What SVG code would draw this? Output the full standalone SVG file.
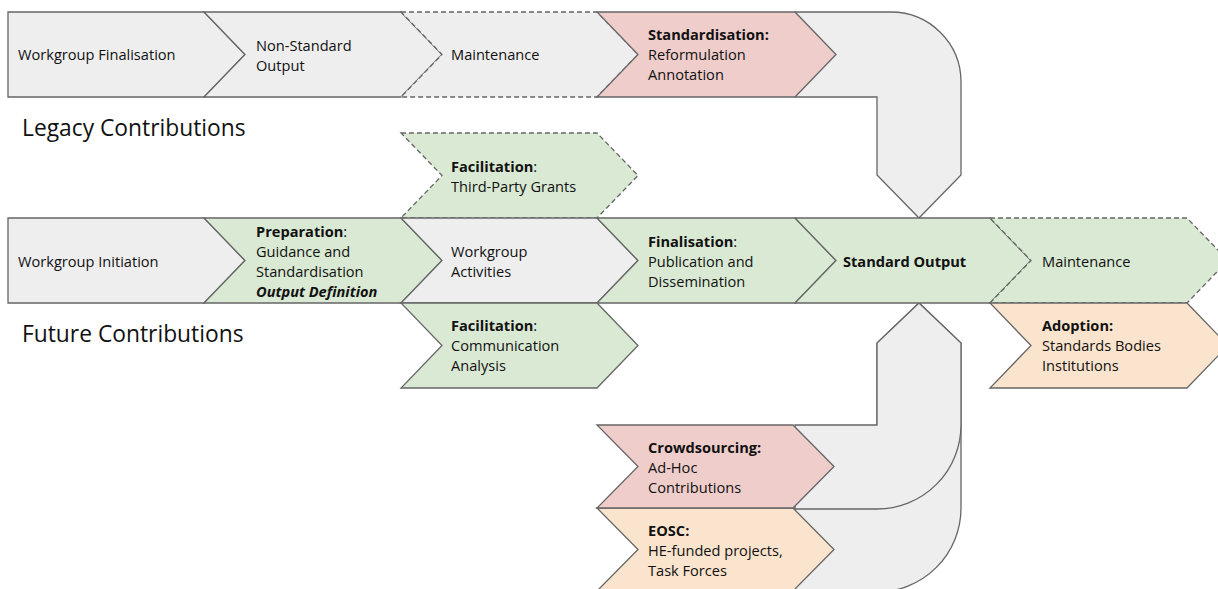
<svg xmlns="http://www.w3.org/2000/svg" width="1218" height="589" viewBox="0 0 1218 589">
  <style>
    .shape { stroke: #666666; stroke-width: 1.3; stroke-linejoin: miter; }
    .dash { stroke-dasharray: 5 3; }
    .grey { fill: #eeeeee; }
    .green { fill: #d9e9d3; }
    .pink { fill: #efcdcb; }
    .orange { fill: #fbe4cd; }
    text { font-family: "Open Sans", "Liberation Sans", sans-serif; font-size: 14.6px; fill: #111111; }
    .b { font-weight: bold; }
    .bi { font-weight: bold; font-style: italic; }
    .title { font-size: 22.8px; }
  </style>

  <!-- connectors: bent flow arrows -->
  <g id="connectors">
    <path class="shape grey" d="M 795,12 H 891 A 70 70 0 0 1 961,82 V 175 L 919,218 L 877,175 V 97 H 795 Z"/>
    <path class="shape grey" d="M 795,508 H 877 V 343 L 919,303 L 961,343 V 508 A 84 84 0 0 1 877,592 H 795 Z"/>
    <path class="shape grey" d="M 795,425 H 877 V 343 L 919,303 L 961,343 V 425 A 84 84 0 0 1 877,509 H 795 Z"/>
  </g>

  <!-- legacy row -->
  <g id="wg-finalisation">
    <polygon class="shape grey" points="8,12 204,12 245,54.5 204,97 8,97"/>
    <text x="18" y="60">Workgroup Finalisation</text>
  </g>
  <g id="non-standard-output">
    <polygon class="shape grey" points="204,12 401,12 442,54.5 401,97 204,97 245,54.5"/>
    <text x="256" y="51">Non-Standard</text>
    <text x="256" y="71">Output</text>
  </g>
  <g id="legacy-maintenance">
    <polygon class="shape grey dash" points="401,12 597,12 638,54.5 597,97 401,97 442,54.5"/>
    <text x="451" y="60">Maintenance</text>
  </g>
  <g id="standardisation">
    <polygon class="shape pink" points="597,12 795,12 836,54.5 795,97 597,97 638,54.5"/>
    <text x="648" y="40" class="b">Standardisation:</text>
    <text x="648" y="60">Reformulation</text>
    <text x="648" y="80">Annotation</text>
  </g>

  <g id="legacy-label">
    <text x="22" y="136" class="title">Legacy Contributions</text>
  </g>

  <!-- future row -->
  <g id="third-party-grants">
    <polygon class="shape green dash" points="401,133 597,133 638,175.5 597,218 401,218 442,175.5"/>
    <text x="451" y="172"><tspan class="b">Facilitation</tspan>:</text>
    <text x="451" y="192">Third-Party Grants</text>
  </g>
  <g id="wg-initiation">
    <polygon class="shape grey" points="8,218 204,218 245,260.5 204,303 8,303"/>
    <text x="18" y="267">Workgroup Initiation</text>
  </g>
  <g id="preparation">
    <polygon class="shape green" points="204,218 401,218 442,260.5 401,303 204,303 245,260.5"/>
    <text x="256" y="237"><tspan class="b">Preparation</tspan>:</text>
    <text x="256" y="257">Guidance and</text>
    <text x="256" y="277">Standardisation</text>
    <text x="256" y="297" class="bi">Output Definition</text>
  </g>
  <g id="wg-activities">
    <polygon class="shape grey" points="401,218 597,218 638,260.5 597,303 401,303 442,260.5"/>
    <text x="451" y="257">Workgroup</text>
    <text x="451" y="277">Activities</text>
  </g>
  <g id="finalisation">
    <polygon class="shape green" points="597,218 795,218 836,260.5 795,303 597,303 638,260.5"/>
    <text x="648" y="247"><tspan class="b">Finalisation</tspan>:</text>
    <text x="648" y="267">Publication and</text>
    <text x="648" y="287">Dissemination</text>
  </g>
  <g id="standard-output">
    <polygon class="shape green" points="795,218 990,218 1031,260.5 990,303 795,303 836,260.5"/>
    <text x="843" y="267" class="b">Standard Output</text>
  </g>
  <g id="future-maintenance">
    <polygon class="shape green dash" points="990,218 1187,218 1228,260.5 1187,303 990,303 1031,260.5"/>
    <text x="1042" y="267">Maintenance</text>
  </g>
  <g id="communication-analysis">
    <polygon class="shape green" points="401,303 597,303 638,345.5 597,388 401,388 442,345.5"/>
    <text x="451" y="331"><tspan class="b">Facilitation</tspan>:</text>
    <text x="451" y="351">Communication</text>
    <text x="451" y="371">Analysis</text>
  </g>
  <g id="adoption">
    <polygon class="shape orange" points="990,303 1187,303 1228,345.5 1187,388 990,388 1031,345.5"/>
    <text x="1042" y="331" class="b">Adoption:</text>
    <text x="1042" y="351">Standards Bodies</text>
    <text x="1042" y="371">Institutions</text>
  </g>

  <g id="future-label">
    <text x="22" y="342" class="title">Future Contributions</text>
  </g>

  <!-- contributing sources -->
  <g id="eosc">
    <polygon class="shape orange" points="597,508 793,508 834,549.5 793,591 597,591 638,549.5"/>
    <text x="648" y="536" class="b">EOSC:</text>
    <text x="648" y="556">HE-funded projects,</text>
    <text x="648" y="576">Task Forces</text>
  </g>
  <g id="crowdsourcing">
    <polygon class="shape pink" points="597,425 793,425 834,466.5 793,508 597,508 638,466.5"/>
    <text x="648" y="453" class="b">Crowdsourcing:</text>
    <text x="648" y="473">Ad-Hoc</text>
    <text x="648" y="493">Contributions</text>
  </g>
</svg>
